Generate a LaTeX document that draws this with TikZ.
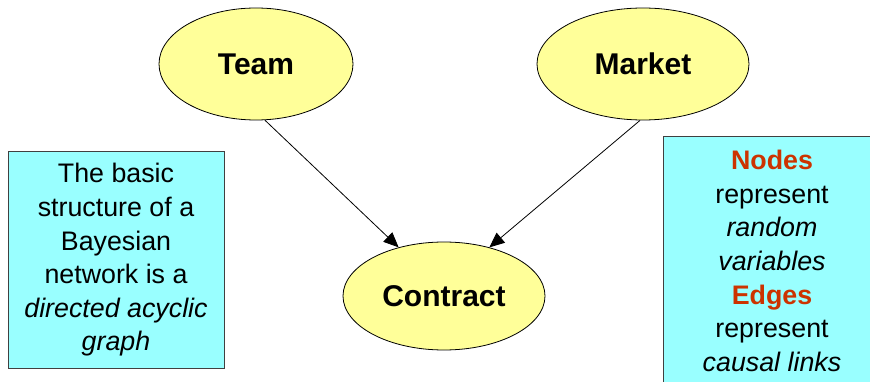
\documentclass[tikz,border=0pt]{standalone}
\usepackage{fontspec}
\setmainfont{Liberation Sans}
\usetikzlibrary{shapes.geometric,arrows.meta}
\definecolor{nodefill}{HTML}{FFFF99}
\definecolor{notefill}{HTML}{99FFFF}
\definecolor{noteedge}{HTML}{404040}
\definecolor{keyred}{HTML}{CC3300}
\tikzset{
  var/.style={ellipse, draw=black, line width=0.8pt, fill=nodefill,
    font=\fontsize{30}{34}\selectfont\bfseries, inner sep=0pt},
  note/.style={draw=noteedge, line width=1pt, fill=notefill, align=center,
    font=\fontsize{26.8}{33.6}\selectfont},
  link/.style={line width=0.8pt, -{Triangle[length=15pt,width=13pt]}}
}
\begin{document}
\begin{tikzpicture}[x=1pt,y=-1pt]
\useasboundingbox (0,0) rectangle (870,382);
% variables of the network
\node[var, minimum width=194pt, minimum height=112pt] (team) at (256,64) {Team};
\node[var, minimum width=212pt, minimum height=112pt] (market) at (643,64) {Market};
\node[var, minimum width=202pt, minimum height=108pt] (contract) at (444,296) {Contract};
% directed edges
\draw[link] (team.-81) -- (contract.133);
\draw[link] (market.-93) -- (contract.47);
% explanatory notes
\node[note, minimum width=216pt, minimum height=216pt, inner sep=0pt] (left) at (116,260)
  {The basic\\structure of a\\Bayesian\\network is a\\\itshape directed acyclic\\\itshape graph};
\node[note, minimum width=212pt, minimum height=250pt, inner sep=0pt, anchor=north west] (right) at (663,136) {};
\node[font=\fontsize{26.8}{33.6}\selectfont, align=center] (rtext) at (772,261)
  {\textcolor{keyred}{\bfseries Nodes}\\represent\\\itshape random\\\itshape variables\\\textcolor{keyred}{\bfseries Edges}\\represent\\\itshape causal links};
\end{tikzpicture}
\end{document}
